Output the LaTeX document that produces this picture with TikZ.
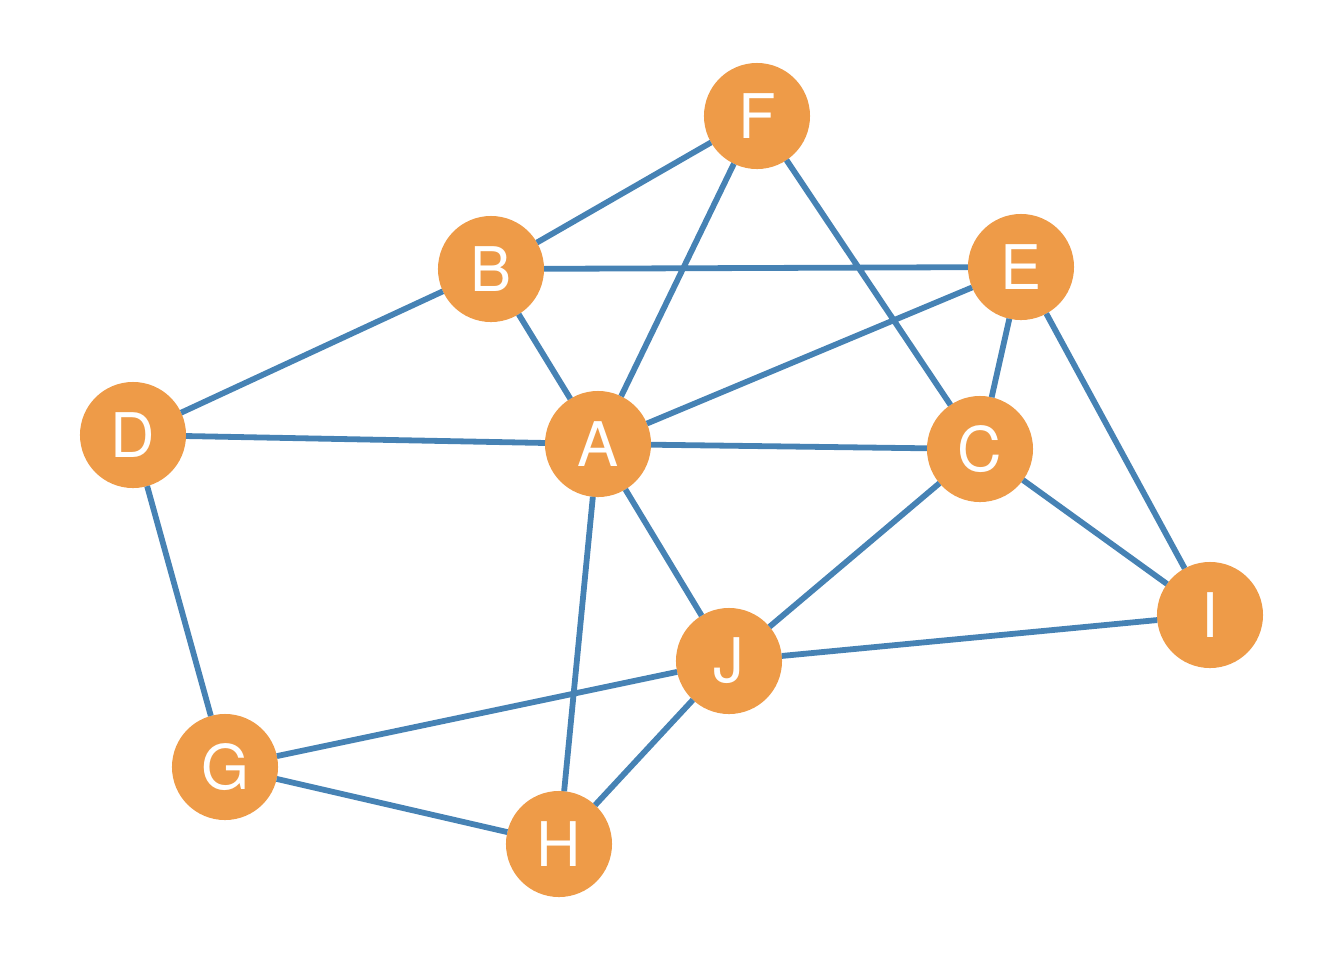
\documentclass[tikz,border=0pt]{standalone}
\usepackage{fontspec}
\setmainfont{TeX Gyre Heros}
\usetikzlibrary{shapes}
\definecolor{nodeorange}{RGB}{238,155,72}
\definecolor{edgeblue}{RGB}{70,130,180}
\tikzstyle{vtx} = [circle, fill=nodeorange, inner sep=0pt, outer sep=0pt,
    minimum size=1.06cm, text=white, font=\fontsize{17.5}{20}\selectfont]

\begin{document}
\begin{tikzpicture}[x=0.01cm,y=-0.01cm,line width=1.65pt,edgeblue]
  \useasboundingbox (0,0) rectangle (1344,960);

  \node[vtx] (F) at (757,116) {F};
  \node[vtx] (B) at (491,269) {B};
  \node[vtx] (E) at (1021,267) {E};
  \node[vtx] (D) at (133,435) {D};
  \node[vtx] (A) at (598,444) {A};
  \node[vtx] (C) at (980,449) {C};
  \node[vtx] (I) at (1210,615) {I};
  \node[vtx] (J) at (729,661) {J};
  \node[vtx] (G) at (225,767) {G};
  \node[vtx] (H) at (559,844) {H};

  \draw (F) -- (B)  (F) -- (A)  (F) -- (C)
        (B) -- (E)  (B) -- (D)  (B) -- (A)
        (E) -- (A)  (E) -- (C)  (E) -- (I)
        (D) -- (A)  (A) -- (C)  (D) -- (G)
        (A) -- (J)  (A) -- (H)  (C) -- (J)
        (C) -- (I)  (J) -- (I)  (J) -- (G)
        (J) -- (H)  (G) -- (H);
\end{tikzpicture}
\end{document}
